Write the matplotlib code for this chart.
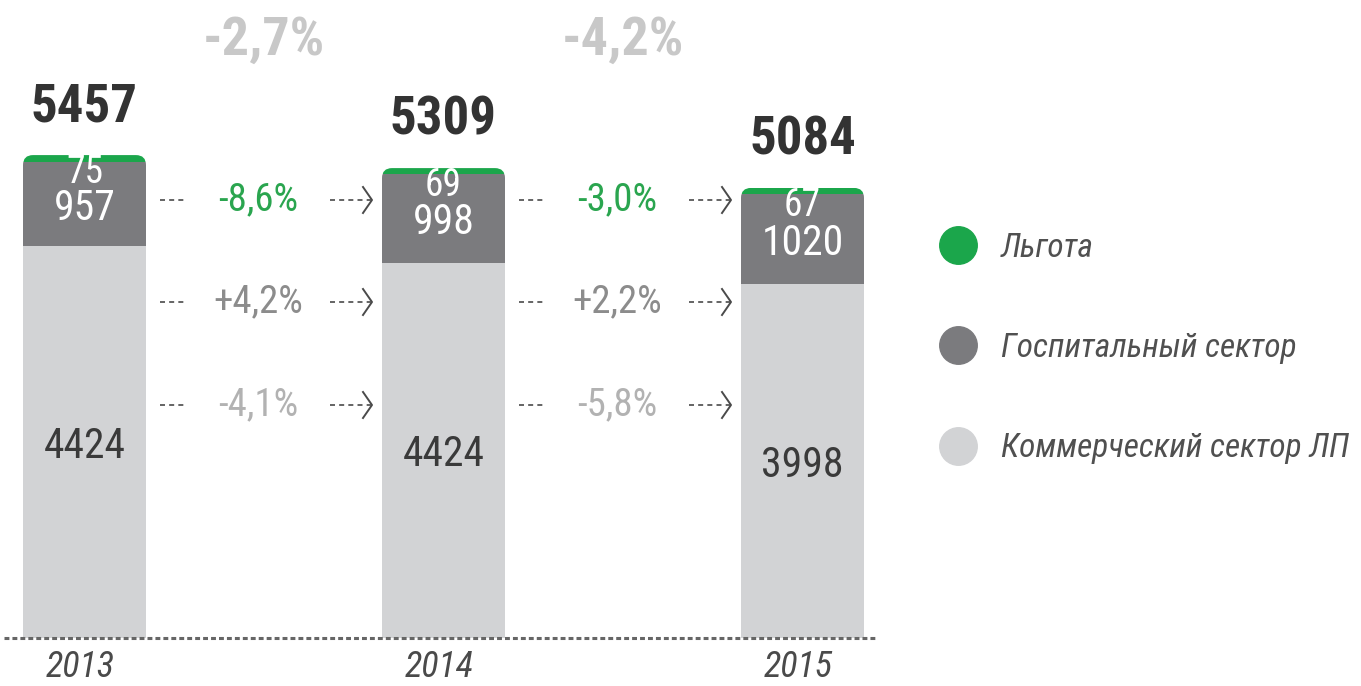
import numpy as np
import matplotlib
matplotlib.use('Agg')
import matplotlib.pyplot as plt
from matplotlib import font_manager
from matplotlib.patches import FancyBboxPatch
from matplotlib.lines import Line2D

# data
years = ['2013', '2014', '2015']
lgota = [75, 69, 67]
hospital = [957, 998, 1020]
commercial = [4424, 4242, 3998]
commercial_labels = ['4424', '4424', '3998']   # printed as on the source chart
totals = [5457, 5309, 5084]
total_change = ['-2,7%', '-4,2%']
lgota_change = ['-8,6%', '-3,0%']
hospital_change = ['+4,2%', '+2,2%']
commercial_change = ['-4,1%', '-5,8%']
series_names = ['Льгота', 'Госпитальный сектор', 'Коммерческий сектор ЛП']

GREEN = '#1ba64b'
DARK = '#7b7b7e'
LIGHT = '#d2d3d5'

# pick a condensed DIN-like face that is installed
installed = {f.name for f in font_manager.fontManager.ttflist}
cands = ['Roboto Condensed', 'PT Sans Narrow', 'Sofia Sans Condensed', 'Fira Sans Condensed']
COND = [c for c in cands if c in installed][:1] + ['DejaVu Sans']

W, H = 1361, 686
fig = plt.figure(figsize=(W / 100, H / 100), dpi=100)
base_px = 638                      # baseline, pixels from top
ax = fig.add_axes([0, (H - base_px) / H, 1, base_px / H])

x0_px, step_px = 84.5, 359.0
ux = 1 / step_px                   # x data per pixel
uy = totals[0] / 483.0             # y data per pixel
ax.set_xlim(-x0_px * ux, (W - x0_px) * ux)
ax.set_ylim(0, base_px * uy)


def py(y):
    return (base_px - y) * uy


x = np.arange(len(years))
bw = 123 * ux
mid = np.add(commercial, hospital)
tops = mid + np.array(lgota)

b1 = ax.bar(x, commercial, bw, color=LIGHT, zorder=2)
b2 = ax.bar(x, hospital, bw, bottom=commercial, color=DARK, zorder=2)
b3 = ax.bar(x, lgota, bw, bottom=mid, color=GREEN, zorder=2)

# rounded top corners
for i in range(len(x)):
    clip = FancyBboxPatch((x[i] - bw / 2, -tops[i]), bw, 2 * tops[i],
                          boxstyle=f'round,pad=0,rounding_size={10 * ux}',
                          mutation_aspect=uy / ux, transform=ax.transData)
    for bars in (b1, b2, b3):
        bars[i].set_clip_path(clip)

for i in range(len(x)):
    ax.annotate(str(totals[i]), (x[i], tops[i]), xytext=(0, 24), textcoords='offset points',
                ha='center', va='baseline', fontsize=38, fontweight='bold', family=COND,
                color='#333333')
    ax.annotate(str(lgota[i]), (x[i], tops[i]), xytext=(0, -20), textcoords='offset points',
                ha='center', va='baseline', fontsize=27, family=COND, color='white', zorder=3)
    ax.text(x[i], commercial[i] + hospital[i] / 2, str(hospital[i]), ha='center',
            va='center_baseline', fontsize=30, family=COND, color='white', zorder=3)
    ax.text(x[i], commercial[i] / 2, commercial_labels[i], ha='center',
            va='center_baseline', fontsize=30, family=COND, color='#3a3a3a', zorder=3)

# changes between years
rows = [(lgota_change, '#2aa54f', 200), (hospital_change, '#8c8c8c', 302),
        (commercial_change, '#b2b2b2', 405)]
for i in range(len(x) - 1):
    xm = (x[i] + x[i + 1]) / 2
    ax.text(xm, py(40), total_change[i], ha='center', va='center', fontsize=39,
            fontweight='bold', family=COND, color='#c8c8c8')
    right_edge = x[i] + bw / 2
    left_edge = x[i + 1] - bw / 2
    for vals, col, ypx in rows:
        y = py(ypx)
        ax.text(xm - 6 * ux, y, vals[i], ha='center', va='center', fontsize=28,
                family=COND, color=col)
        ax.plot([right_edge + 14 * ux, right_edge + 41 * ux], [y, y], color='#4a4a4a',
                lw=1.2, ls=(0, (3, 2.5)))
        tip = left_edge - 10 * ux
        ax.plot([left_edge - 52 * ux, tip - 1 * ux], [y, y], color='#4a4a4a',
                lw=1.2, ls=(0, (3, 2.5)))
        ax.plot([tip - 9 * ux, tip, tip - 9 * ux], [y + 13 * uy, y, y - 13 * uy],
                color='#4a4a4a', lw=1.4)

# dotted baseline
ax.plot([-80 * ux, 792 * ux], [0, 0], color='#666666', lw=2.2, ls=(0, (1.6, 1.0)),
        clip_on=False, zorder=4)

ax.set_xticks(x - 4 * ux, years)
ax.tick_params(axis='x', length=0, pad=8, labelsize=26, labelcolor='#4a4a4a')
for lab in ax.get_xticklabels():
    lab.set_family(COND)
    lab.set_style('italic')
ax.set_yticks([])
for s in ax.spines.values():
    s.set_visible(False)

handles = [Line2D([], [], ls='none', marker='o', ms=27, mfc=c, mec=c) for c in (GREEN, DARK, LIGHT)]
ax.legend(handles, series_names, loc='center left', bbox_to_anchor=(934 / W, 1 - 348 / H),
          bbox_transform=fig.transFigure, frameon=False,
          prop=dict(family=COND, style='italic', size=24), labelcolor='#505050',
          labelspacing=2.05, handlelength=1.45, handletextpad=0.55, borderpad=0, borderaxespad=0)

fig.savefig('out.png', dpi=100)
